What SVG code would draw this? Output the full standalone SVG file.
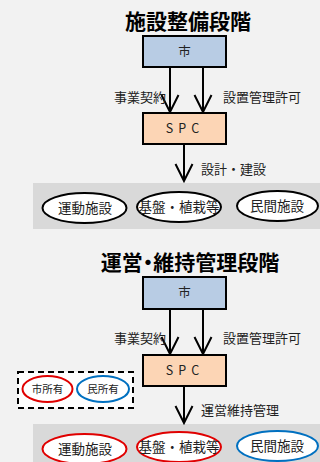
<svg xmlns="http://www.w3.org/2000/svg" width="320" height="462" viewBox="0 0 320 462">
<style>
text{font-family:"Noto Sans CJK JP","Noto Sans",sans-serif;fill:#222}
.title{font-size:21px;font-weight:bold;fill:#000}
.lbl{font-size:13px}
.boxt{font-size:12.5px}
.ell{font-size:13.5px}
.city{fill:#b8cce4;stroke:#000;stroke-width:2}
.spc{fill:#fcd5b5;stroke:#000;stroke-width:2}
.band{fill:#d9d9d9}
.e{fill:#fff;stroke-width:2}
.line{stroke:#000;stroke-width:2;fill:none}
</style>
<defs>
<marker id="v" markerWidth="20" markerHeight="20" refX="18" refY="10" orient="auto" markerUnits="userSpaceOnUse" viewBox="0 0 20 20">
<path d="M1,1.5 L18,10 L1,18.5" fill="none" stroke="#000" stroke-width="2"/>
</marker>
</defs>
<rect width="320" height="462" fill="#f2f2f2"/>
<rect class="band" x="33" y="183" width="287" height="46"/>
<rect class="band" x="33" y="424" width="287" height="38"/>
<text class="title" x="188" y="29" text-anchor="middle">施設整備段階</text>
<text class="title" x="190" y="270" text-anchor="middle" style="font-feature-settings:'palt'">運営・維持管理段階</text>
<g id="connectors">
<line class="line" x1="170" y1="67" x2="170" y2="112" marker-end="url(#v)"/>
<line class="line" x1="203" y1="67" x2="203" y2="112" marker-end="url(#v)"/>
<line class="line" x1="184" y1="144" x2="184" y2="181" marker-end="url(#v)"/>
<line class="line" x1="170" y1="309" x2="170" y2="354" marker-end="url(#v)"/>
<line class="line" x1="203" y1="309" x2="203" y2="354" marker-end="url(#v)"/>
<line class="line" x1="184" y1="386" x2="184" y2="423" marker-end="url(#v)"/>
<text class="lbl" x="166" y="102" text-anchor="end">事業契約</text>
<text class="lbl" x="223" y="102">設置管理許可</text>
<text class="lbl" x="201" y="174">設計・建設</text>
<text class="lbl" x="166" y="343" text-anchor="end">事業契約</text>
<text class="lbl" x="223" y="343">設置管理許可</text>
<text class="lbl" x="201" y="415">運営維持管理</text>
</g>
<g id="city1"><rect class="city" x="143" y="36" width="83" height="31"/><text class="boxt" x="184.5" y="56" text-anchor="middle">市</text></g>
<g id="spc1"><rect class="spc" x="143" y="113" width="83" height="31"/><text class="boxt" x="185" y="133" text-anchor="middle" letter-spacing="5">SPC</text></g>
<g id="e1a"><ellipse class="e" stroke="#000" cx="84.5" cy="208" rx="42" ry="15"/><text class="ell" x="85" y="213" text-anchor="middle">運動施設</text></g>
<g id="e1b"><ellipse class="e" stroke="#000" cx="179" cy="207" rx="42" ry="15"/><text class="ell" x="179" y="212" text-anchor="middle">基盤・植栽等</text></g>
<g id="e1c"><ellipse class="e" stroke="#000" cx="277.5" cy="206" rx="40.5" ry="15"/><text class="ell" x="277" y="211" text-anchor="middle">民間施設</text></g>
<g id="city2"><rect class="city" x="143" y="277" width="83" height="32"/><text class="boxt" x="184.5" y="297" text-anchor="middle">市</text></g>
<g id="spc2"><rect class="spc" x="143" y="355" width="83" height="31"/><text class="boxt" x="185" y="375" text-anchor="middle" letter-spacing="5">SPC</text></g>
<g id="legend"><rect x="18" y="372" width="115" height="36" fill="#fff" stroke="#000" stroke-width="2" stroke-dasharray="6,4"/>
<ellipse class="e" stroke="#e00000" cx="47.5" cy="389" rx="25" ry="13"/><text x="47.5" y="393" font-size="10.5" text-anchor="middle">市所有</text>
<ellipse class="e" stroke="#0070c0" cx="103" cy="389" rx="26" ry="13"/><text x="103" y="393" font-size="10.5" text-anchor="middle">民所有</text></g>
<g id="e2a"><ellipse class="e" stroke="#e00000" cx="84.5" cy="449" rx="42" ry="15"/><text class="ell" x="85" y="454" text-anchor="middle">運動施設</text></g>
<g id="e2b"><ellipse class="e" stroke="#e00000" cx="179" cy="447" rx="42" ry="15"/><text class="ell" x="179" y="452" text-anchor="middle">基盤・植栽等</text></g>
<g id="e2c"><ellipse class="e" stroke="#0070c0" cx="277.5" cy="446" rx="40.5" ry="15"/><text class="ell" x="277" y="451" text-anchor="middle">民間施設</text></g>
</svg>
